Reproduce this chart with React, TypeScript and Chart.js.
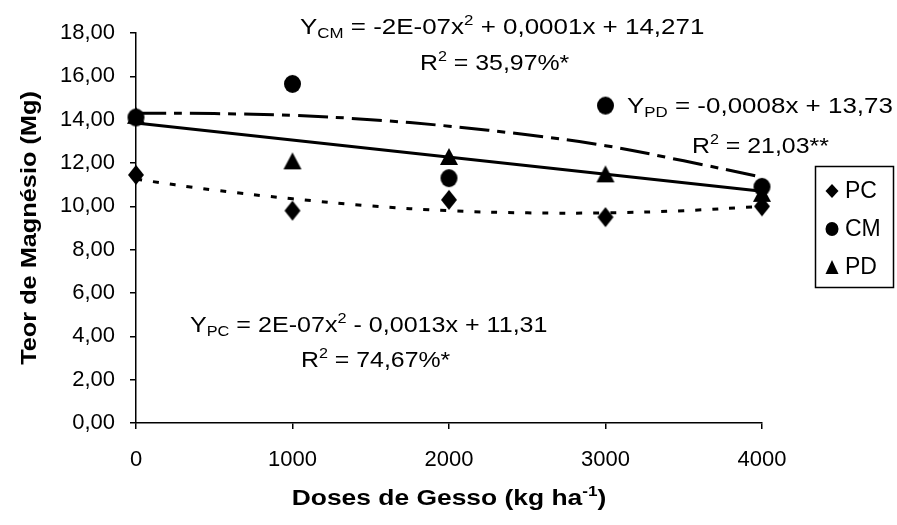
import React, { useEffect, useRef } from "react";
import { Chart, registerables } from "chart.js";

Chart.register(...registerables);

// ---- data ----
const doses = [0, 1000, 2000, 3000, 4000];
const pcValues = [11.45, 9.8, 10.3, 9.5, 10.0];
const cmValues = [14.1, 15.65, 11.3, 14.65, 10.9];
const pdValues = [14.2, 12.1, 12.3, 11.5, 10.6];

const trendDoses = [0, 500, 1000, 1500, 2000, 2500, 3000, 3500, 4000];
const pcTrend = [11.25, 10.75, 10.35, 10.02, 9.8, 9.7, 9.7, 9.8, 10.0];
const cmTrend = [14.3, 14.28, 14.2, 14.0, 13.7, 13.3, 12.8, 12.1, 11.35];
const pdTrendDoses = [0, 4000];
const pdTrend = [13.85, 10.7];

const seriesLabels = ["PC", "CM", "PD"];
const xTitle = "Doses de Gesso (kg ha";
const yTitle = "Teor de Magnésio (Mg)";

const FONT = '"Liberation Sans", Arial, sans-serif';

type Seg = { t: string; s?: "sub" | "sup" };

function richWidth(ctx: CanvasRenderingContext2D, segs: Seg[], size: number, bold: boolean) {
  let w = 0;
  for (const seg of segs) {
    const fs = seg.s ? size * 0.65 : size;
    ctx.font = `${bold ? "bold " : ""}${fs}px ${FONT}`;
    w += ctx.measureText(seg.t).width;
  }
  return w;
}

function drawRich(
  ctx: CanvasRenderingContext2D,
  segs: Seg[],
  x: number,
  y: number,
  size: number,
  bold: boolean,
  sx: number,
  rotate = 0,
  center = false
) {
  ctx.save();
  ctx.translate(x, y);
  if (rotate) ctx.rotate(rotate);
  ctx.scale(sx, 1);
  ctx.fillStyle = "#000";
  ctx.textBaseline = "alphabetic";
  ctx.textAlign = "left";
  let cx = center ? -richWidth(ctx, segs, size, bold) / 2 : 0;
  for (const seg of segs) {
    const fs = seg.s ? size * 0.65 : size;
    ctx.font = `${bold ? "bold " : ""}${fs}px ${FONT}`;
    const dy = seg.s === "sub" ? size * 0.2 : seg.s === "sup" ? -size * 0.4 : 0;
    ctx.fillText(seg.t, cx, dy);
    cx += ctx.measureText(seg.t).width;
  }
  ctx.restore();
}

function markerPath(ctx: CanvasRenderingContext2D, style: string, x: number, y: number, w: number, h: number) {
  ctx.beginPath();
  if (style === "diamond") {
    ctx.moveTo(x, y - h / 2);
    ctx.lineTo(x + w / 2, y);
    ctx.lineTo(x, y + h / 2);
    ctx.lineTo(x - w / 2, y);
  } else if (style === "circle") {
    ctx.ellipse(x, y, w / 2, h / 2, 0, 0, Math.PI * 2);
  } else {
    ctx.moveTo(x, y - h / 2);
    ctx.lineTo(x + w / 2, y + h / 2);
    ctx.lineTo(x - w / 2, y + h / 2);
  }
  ctx.closePath();
  ctx.fillStyle = "#000";
  ctx.fill();
}

function makeMarker(style: string, w: number, h: number) {
  const c = document.createElement("canvas");
  c.width = w + 2;
  c.height = h + 2;
  const g = c.getContext("2d")!;
  markerPath(g, style, (w + 2) / 2, (h + 2) / 2, w, h);
  return c;
}

const annotationPlugin = {
  id: "annotationsAndLegend",
  afterDraw(chart: any) {
    const ctx: CanvasRenderingContext2D = chart.ctx;
    const size = 22;
    const sx = 1.18;
    drawRich(ctx, [{ t: "Y" }, { t: "CM", s: "sub" }, { t: " = -2E-07x" }, { t: "2", s: "sup" }, { t: " + 0,0001x + 14,271" }], 300, 34, size, false, sx);
    drawRich(ctx, [{ t: "R" }, { t: "2", s: "sup" }, { t: " = 35,97%*" }], 420, 70, size, false, 1.13);
    drawRich(ctx, [{ t: "Y" }, { t: "PD", s: "sub" }, { t: " = -0,0008x + 13,73" }], 627, 113, size, false, sx);
    drawRich(ctx, [{ t: "R" }, { t: "2", s: "sup" }, { t: " = 21,03**" }], 692, 153, size, false, 1.13);
    drawRich(ctx, [{ t: "Y" }, { t: "PC", s: "sub" }, { t: " = 2E-07x" }, { t: "2", s: "sup" }, { t: " - 0,0013x + 11,31" }], 190, 332, size, false, 1.14);
    drawRich(ctx, [{ t: "R" }, { t: "2", s: "sup" }, { t: " = 74,67%*" }], 301, 367, size, false, 1.13);

    // axis titles
    const area = chart.chartArea;
    drawRich(ctx, [{ t: xTitle }, { t: "-1", s: "sup" }, { t: ")" }], (area.left + area.right) / 2, 505, size, true, 1.2, 0, true);
    drawRich(ctx, [{ t: yTitle }], 36, (area.top + area.bottom) / 2, size, true, 1.15, -Math.PI / 2, true);

    // legend box
    ctx.save();
    ctx.strokeStyle = "#000";
    ctx.lineWidth = 1.5;
    ctx.strokeRect(815.5, 166.5, 78, 121);
    const styles = ["diamond", "circle", "triangle"];
    const ys = [191, 229, 267];
    ctx.font = `23px ${FONT}`;
    ctx.textBaseline = "middle";
    ctx.textAlign = "left";
    seriesLabels.forEach((lab, i) => {
      markerPath(ctx, styles[i], 832, ys[i], 13, 14);
      ctx.fillStyle = "#000";
      ctx.fillText(lab, 845, ys[i] + 1);
    });
    ctx.restore();
  },
};

export default function App() {
  const ref = useRef<HTMLCanvasElement | null>(null);

  useEffect(() => {
    if (!ref.current) return;
    const pts = (xs: number[], ys: number[]) => xs.map((x, i) => ({ x, y: ys[i] }));
    const tickFont = { family: FONT, size: 22 };
    const diamond = makeMarker("diamond", 16, 20);
    const circle = makeMarker("circle", 17, 18);
    const triangle = makeMarker("triangle", 18, 17);
    const chart = new Chart(ref.current, {
      type: "scatter",
      data: {
        datasets: [
          { label: seriesLabels[0], data: pts(doses, pcValues), pointStyle: diamond, pointRadius: 10, showLine: false },
          { label: seriesLabels[1], data: pts(doses, cmValues), pointStyle: circle, pointRadius: 10, showLine: false },
          { label: seriesLabels[2], data: pts(doses, pdValues), pointStyle: triangle, pointRadius: 10, showLine: false },
          { label: "PC trend", data: pts(trendDoses, pcTrend), showLine: true, pointRadius: 0, borderColor: "#000", borderWidth: 3, borderDash: [6, 11], tension: 0.4, fill: false },
          { label: "CM trend", data: pts(trendDoses, cmTrend), showLine: true, pointRadius: 0, borderColor: "#000", borderWidth: 3, borderDash: [30, 8, 8, 8], tension: 0.4, fill: false },
          { label: "PD trend", data: pts(pdTrendDoses, pdTrend), showLine: true, pointRadius: 0, borderColor: "#000", borderWidth: 3, fill: false },
        ] as any,
      },
      options: {
        responsive: false,
        animation: false,
        devicePixelRatio: 1,
        clip: false,
        layout: { padding: { top: 33, right: 135, bottom: 0, left: 0 } },
        plugins: { legend: { display: false }, tooltip: { enabled: false } },
        scales: {
          x: {
            type: "linear",
            min: 0,
            max: 4000,
            ticks: { stepSize: 1000, color: "#000", font: tickFont, padding: 18, maxRotation: 0, autoSkip: false, callback: (v: any) => String(v) },
            grid: { drawOnChartArea: false, drawTicks: true, tickLength: 6, color: "#000", lineWidth: 1.5 },
            border: { display: true, color: "#000", width: 1.5 },
            afterFit: (s: any) => { s.height = 102; },
          },
          y: {
            type: "linear",
            min: 0,
            max: 18,
            ticks: {
              stepSize: 2,
              color: "#000",
              font: tickFont,
              padding: 15,
              callback: (v: any) => Number(v).toFixed(2).replace(".", ","),
            },
            grid: { drawOnChartArea: false, drawTicks: true, tickLength: 6, color: "#000", lineWidth: 1.5 },
            border: { display: true, color: "#000", width: 1.5 },
            afterFit: (s: any) => { s.width = 136; },
          },
        },
      } as any,
      plugins: [annotationPlugin],
    });
    return () => chart.destroy();
  }, []);

  return (
    <div style={{ position: "fixed", left: 0, top: 0, width: 897, height: 525, background: "#fff" }}>
      <canvas ref={ref} width={897} height={525} style={{ display: "block", width: 897, height: 525 }} />
    </div>
  );
}
